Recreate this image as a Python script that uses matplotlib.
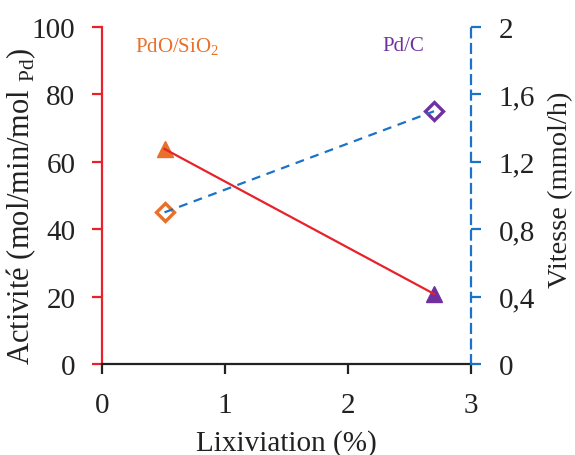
import matplotlib
matplotlib.use("Agg")
import matplotlib.pyplot as plt

lix = [0.51, 2.70]
activite = [63.8, 20.8]
vitesse = [0.90, 1.50]
cat_colors = ["#e8702a", "#7030a0"]
cat_labels = ["PdO/SiO$_2$", "Pd/C"]
left_ticks = [0, 20, 40, 60, 80, 100]
right_ticks = [0, 0.4, 0.8, 1.2, 1.6, 2.0]
right_labels = ["0", "0,4", "0,8", "1,2", "1,6", "2"]
x_ticks = [0, 1, 2, 3]

RED = "#e8212b"
BLUE = "#1a73c8"

plt.rcParams['font.family'] = ['Liberation Serif', 'DejaVu Serif']
plt.rcParams['mathtext.fontset'] = 'custom'
plt.rcParams['mathtext.rm'] = 'Liberation Serif'

fig = plt.figure(figsize=(5.75, 4.56), dpi=100)
ax = fig.add_axes([0.177, 0.1996, 0.642, 0.739])
ax2 = ax.twinx()

ax.plot(lix, activite, color=RED, lw=1.6, zorder=3)
for x, y, c in zip(lix, activite, cat_colors):
    ax.plot([x], [y], marker='^', ms=12, color=c, mec=c, zorder=2, ls='none')

ax2.plot(lix, vitesse, color=BLUE, lw=1.6, ls=(0, (4, 3)), zorder=3)
for x, y, c in zip(lix, vitesse, cat_colors):
    ax2.plot([x], [y], marker='D', ms=9.5, mfc='none', mec=c, mew=2.4, zorder=2, ls='none')

ax.set_xlim(0, 3)
ax.set_ylim(0, 100)
ax2.set_ylim(0, 2)
ax.set_xticks(x_ticks)
ax.set_yticks(left_ticks)
ax2.set_yticks(right_ticks)
ax2.set_yticklabels(right_labels)

for a in (ax, ax2):
    a.spines['top'].set_visible(False)
ax2.spines['left'].set_visible(False)
ax2.spines['bottom'].set_visible(False)
ax.spines['right'].set_visible(False)
ax.spines['left'].set_color(RED)
ax.spines['left'].set_linewidth(1.6)
ax.spines['bottom'].set_color('#222222')
ax.spines['bottom'].set_linewidth(1.6)
ax2.spines['right'].set_color(BLUE)
ax2.spines['right'].set_linewidth(1.6)
ax2.spines['right'].set_linestyle((0, (4, 3)))

ax.tick_params(axis='y', colors=RED, labelcolor='#222222', length=7, width=1.6, labelsize=21, pad=12)
ax.tick_params(axis='x', colors='#222222', length=7, width=1.6, labelsize=21, pad=13)
ax2.tick_params(axis='y', colors=BLUE, labelcolor='#222222', length=7, width=1.6, labelsize=21, pad=13)

ax.set_xlabel("Lixiviation (%)", fontsize=21, color='#222222', labelpad=8)
ax.set_ylabel("Activité (mol/min/mol $_{\\mathrm{Pd}}$)", fontsize=22, color='#222222')
ax.yaxis.set_label_coords(-0.173, 0.47)
ax2.set_ylabel("Vitesse (mmol/h)", fontsize=20.5, color='#222222')
ax2.yaxis.set_label_coords(1.21, 0.52)

ax.text(0.61, 94.4, cat_labels[0], color=cat_colors[0], fontsize=15, ha='center', va='center')
ax.text(2.45, 94.4, cat_labels[1], color=cat_colors[1], fontsize=15, ha='center', va='center')

fig.savefig("out.png", dpi=100)
